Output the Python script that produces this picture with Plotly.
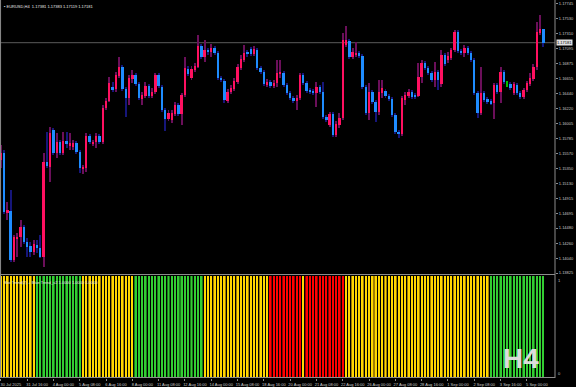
import plotly.graph_objects as go

# ---------------- data ----------------
opens = [1.15472,1.15574,1.14714,1.14728,1.14015,1.14335,1.14350,1.14496,1.14277,1.14219,
         1.14132,1.14233,1.14189,1.14059,1.15443,1.15370,1.15909,1.15574,1.15734,1.15574,
         1.15748,1.15690,1.15661,1.15719,1.15589,1.15355,1.15355,1.15822,1.15705,1.15734,
         1.15822,1.15734,1.16229,1.16331,1.16535,1.16506,1.16696,1.16827,1.16506,1.16375,
         1.16652,1.16710,1.16579,1.16361,1.16405,1.16550,1.16405,1.16463,1.16710,1.16535,
         1.16200,1.16069,1.16055,1.16142,1.16273,1.16142,1.16419,1.16798,1.16667,1.16783,
         1.16827,1.17133,1.16973,1.17075,1.17046,1.17104,1.17031,1.16667,1.16623,1.16331,
         1.16463,1.16506,1.16608,1.16812,1.16929,1.17031,1.17089,1.17017,1.17075,1.16812,
         1.16754,1.16579,1.16608,1.16550,1.16594,1.16739,1.16739,1.16565,1.16448,1.16375,
         1.16331,1.16375,1.16710,1.16594,1.16492,1.16477,1.16448,1.16535,1.16463,1.16098,
         1.15982,1.16142,1.15836,1.15982,1.16084,1.17148,1.17206,1.16973,1.17002,1.17031,
         1.16987,1.16535,1.16156,1.16463,1.16317,1.16171,1.16448,1.16477,1.16405,1.16361,
         1.16127,1.15880,1.15851,1.16346,1.16405,1.16463,1.16419,1.16405,1.16681,1.16885,
         1.16812,1.16739,1.16637,1.16754,1.16579,1.17002,1.16929,1.16958,1.17075,1.17337,
         1.17060,1.17031,1.17104,1.17031,1.16929,1.16448,1.16156,1.16448,1.16361,1.16331,
         1.16302,1.16565,1.16463,1.16754,1.16579,1.16579,1.16448,1.16565,1.16448,1.16390,
         1.16492,1.16579,1.16652,1.16827,1.17322,1.17381]
highs = [1.15690,1.15618,1.14860,1.15035,1.14379,1.14408,1.14598,1.14525,1.14335,1.14277,
         1.14306,1.14306,1.14379,1.15574,1.15880,1.15953,1.15938,1.15865,1.15763,1.15880,
         1.15880,1.15865,1.15763,1.15748,1.15618,1.15399,1.15865,1.15851,1.15763,1.15865,
         1.15851,1.16273,1.16375,1.16681,1.16608,1.16754,1.16973,1.16856,1.16535,1.16710,
         1.16783,1.16739,1.16608,1.16463,1.16608,1.16579,1.16521,1.16739,1.16739,1.16565,
         1.16229,1.16200,1.16200,1.16317,1.16302,1.16448,1.16973,1.16841,1.16841,1.16885,
         1.17293,1.17162,1.17220,1.17104,1.17162,1.17133,1.17060,1.16696,1.16652,1.16506,
         1.16565,1.16667,1.16871,1.17002,1.17148,1.17075,1.17118,1.17133,1.17104,1.16841,
         1.16783,1.16652,1.16637,1.16637,1.16929,1.16929,1.16769,1.16594,1.16477,1.16405,
         1.16419,1.16739,1.16739,1.16623,1.16521,1.16506,1.16608,1.16565,1.16608,1.16127,
         1.16171,1.16171,1.16040,1.16156,1.17322,1.17424,1.17235,1.17104,1.17191,1.17060,
         1.17017,1.16565,1.16594,1.16492,1.16346,1.16637,1.16637,1.16506,1.16434,1.16390,
         1.16156,1.15909,1.16405,1.16463,1.16506,1.16492,1.16448,1.16885,1.16929,1.16914,
         1.16841,1.16769,1.16900,1.16783,1.17075,1.17031,1.17046,1.17104,1.17366,1.17366,
         1.17089,1.17148,1.17133,1.17060,1.16958,1.16477,1.16827,1.16477,1.16390,1.16361,
         1.16594,1.16594,1.16827,1.16783,1.16623,1.16608,1.16608,1.16594,1.16477,1.16521,
         1.16623,1.16739,1.16871,1.17482,1.17584,1.17383]
lows = [1.15355,1.14685,1.14598,1.13986,1.13986,1.14059,1.14204,1.14248,1.14059,1.14059,
        1.14088,1.14117,1.14044,1.13913,1.15355,1.15151,1.15545,1.15501,1.15545,1.15545,
        1.15646,1.15618,1.15618,1.15560,1.15282,1.15268,1.15297,1.15705,1.15676,1.15646,
        1.15705,1.15705,1.16200,1.16317,1.16463,1.16463,1.16667,1.16477,1.16098,1.16273,
        1.16594,1.16550,1.16346,1.16273,1.16375,1.16375,1.16375,1.16434,1.16521,1.16171,
        1.15894,1.16040,1.16011,1.16113,1.16113,1.15982,1.16390,1.16696,1.16637,1.16754,
        1.16812,1.16944,1.16900,1.17002,1.16973,1.17002,1.16637,1.16608,1.16302,1.16302,
        1.16434,1.16477,1.16579,1.16783,1.16900,1.16973,1.16987,1.16987,1.16783,1.16725,
        1.16550,1.16535,1.16521,1.16521,1.16535,1.16667,1.16535,1.16419,1.16346,1.16302,
        1.16200,1.16346,1.16565,1.16448,1.16434,1.16419,1.16244,1.16434,1.16069,1.16026,
        1.15953,1.15807,1.15807,1.15938,1.16055,1.17118,1.16944,1.16944,1.16973,1.16958,
        1.16506,1.16127,1.16055,1.16288,1.16026,1.16127,1.16375,1.16375,1.16331,1.16098,
        1.15851,1.15792,1.15822,1.16273,1.16375,1.16361,1.16361,1.16390,1.16594,1.16783,
        1.16710,1.16608,1.16535,1.16492,1.16535,1.16841,1.16885,1.16929,1.17046,1.17031,
        1.17002,1.16973,1.17002,1.16900,1.16419,1.16084,1.16127,1.16317,1.16288,1.16273,
        1.16069,1.16434,1.16302,1.16579,1.16535,1.16492,1.16419,1.16419,1.16361,1.16361,
        1.16463,1.16550,1.16623,1.16783,1.17293,1.17119]
closes = [1.15574,1.14714,1.14743,1.14015,1.14350,1.14350,1.14496,1.14277,1.14204,1.14132,
          1.14248,1.14189,1.14059,1.15443,1.15385,1.15865,1.15574,1.15734,1.15574,1.15748,
          1.15719,1.15719,1.15719,1.15589,1.15355,1.15370,1.15822,1.15734,1.15734,1.15822,
          1.15734,1.16229,1.16331,1.16594,1.16506,1.16710,1.16827,1.16506,1.16375,1.16667,
          1.16710,1.16579,1.16375,1.16419,1.16550,1.16405,1.16463,1.16710,1.16550,1.16200,
          1.16069,1.16156,1.16156,1.16273,1.16142,1.16419,1.16812,1.16725,1.16798,1.16841,
          1.17133,1.16973,1.17075,1.17046,1.17104,1.17031,1.16667,1.16637,1.16346,1.16463,
          1.16521,1.16623,1.16827,1.16944,1.17031,1.17017,1.17017,1.17089,1.16812,1.16754,
          1.16579,1.16608,1.16550,1.16594,1.16739,1.16754,1.16565,1.16448,1.16375,1.16331,
          1.16375,1.16710,1.16594,1.16477,1.16463,1.16448,1.16535,1.16463,1.16098,1.16055,
          1.16142,1.15836,1.15996,1.16084,1.17220,1.17220,1.16973,1.17046,1.17031,1.16987,
          1.16535,1.16156,1.16463,1.16317,1.16171,1.16463,1.16521,1.16405,1.16361,1.16127,
          1.15880,1.15851,1.16375,1.16419,1.16463,1.16390,1.16390,1.16681,1.16885,1.16812,
          1.16739,1.16637,1.16754,1.16637,1.17002,1.16871,1.16987,1.17075,1.17337,1.17060,
          1.17031,1.17104,1.17031,1.16929,1.16448,1.16156,1.16448,1.16346,1.16317,1.16302,
          1.16565,1.16463,1.16754,1.16608,1.16579,1.16521,1.16579,1.16448,1.16390,1.16492,
          1.16594,1.16667,1.16827,1.17337,1.17381,1.17181]

# trend state per bar of the lower indicator: Y = yellow, G = green, R = red
trend = ("YYYYYYYYYYY" + "GGGGGGGGGGGGGG" + "YYYYYYYYYYYYYYYY" + "GGGGGGGGGGGGGGGGGGGGG"
         + "YYYYYYYYYYYYYYYYYYYY" + "RRRRRRRRRR" + "Y" + "RRRRRRRRRRRR"
         + "YYYYYYYYYYYYYYYYYYYYYYYYYYYYYYYYYYYYYYYYYYYY" + "GGGGGGGGGGGGGGGGG")

time_tick_idx = [0, 8, 16, 24, 32, 40, 48, 56, 64, 72, 80, 88, 96, 104, 112, 120, 128, 136, 144, 152, 160]
time_labels = ["30 Jul 2025", "31 Jul 16:00", "4 Aug 00:00", "5 Aug 08:00", "6 Aug 16:00", "8 Aug 00:00",
               "11 Aug 08:00", "12 Aug 16:00", "14 Aug 00:00", "15 Aug 08:00", "18 Aug 16:00",
               "20 Aug 00:00", "21 Aug 08:00", "22 Aug 16:00", "26 Aug 00:00", "27 Aug 08:00",
               "28 Aug 16:00", "1 Sep 00:00", "2 Sep 08:00", "3 Sep 16:00", "5 Sep 00:00"]
price_ticks = [1.17745, 1.17530, 1.17310, 1.17095, 1.16875, 1.16655, 1.16440, 1.16220, 1.16005,
               1.15785, 1.15570, 1.15350, 1.15130, 1.14915, 1.14695, 1.14480, 1.14260, 1.14040, 1.13825]
symbol = "EURUSD,H4"
timeframe = "H4"
indicator_name = "Slot Trend(2) + Blue Trend_v2 1.0000 1.0000 1.0000"

# ---------------- styling ----------------
BULL_BODY, BEAR_BODY, DOJI = "#FF1060", "#1E8CFF", "#00C000"
BULL_WICK, BEAR_WICK = "#6B0F5A", "#16167A"
TREND_BRIGHT = {"Y": "#FFD700", "G": "#32CD32", "R": "#FF0000"}
TREND_DARK = {"Y": "#A07E00", "G": "#1A7A1A", "R": "#900000"}
GRID = "#8C8C8C"
TXT = "#C8C8C8"
FONT = "Liberation Sans"

n = len(closes)
idx = list(range(n))
body_col, wick_col, body_base, body_h = [], [], [], []
for o, c in zip(opens, closes):
    if c > o:
        body_col.append(BULL_BODY); wick_col.append(BULL_WICK)
    elif c < o:
        body_col.append(BEAR_BODY); wick_col.append(BEAR_WICK)
    else:
        body_col.append(DOJI); wick_col.append(DOJI)
    body_base.append(min(o, c))
    body_h.append(max(abs(c - o), 0.00008))

fig = go.Figure()
fig.add_trace(go.Bar(x=idx, y=[h - l for h, l in zip(highs, lows)], base=lows, width=0.3,
                     marker=dict(color=wick_col, line=dict(width=0)), xaxis="x", yaxis="y",
                     hoverinfo="skip", showlegend=False))
fig.add_trace(go.Bar(x=idx, y=body_h, base=body_base, width=0.72,
                     marker=dict(color=body_col, line=dict(width=0)), xaxis="x", yaxis="y",
                     showlegend=False))
fig.add_trace(go.Bar(x=idx, y=[1] * n, width=0.7,
                     marker=dict(color=[TREND_DARK[t] for t in trend], line=dict(width=0)),
                     xaxis="x2", yaxis="y2", showlegend=False))
fig.add_trace(go.Bar(x=idx, y=[1] * n, width=0.3,
                     marker=dict(color=[TREND_BRIGHT[t] for t in trend], line=dict(width=0)),
                     xaxis="x2", yaxis="y2", showlegend=False))

W, H = 576, 387
ML, MR, MT, MB = 0, 21, 0, 9
PH = H - MT - MB
main_bottom_px, ind_top_px = 274, 276
xr = [-0.243, 168.55]

fig.update_layout(
    width=W, height=H, margin=dict(l=ML, r=MR, t=MT, b=MB, autoexpand=False),
    paper_bgcolor="#000000", plot_bgcolor="#000000",
    barmode="overlay", bargap=0,
    font=dict(family=FONT, size=4, color=TXT),
    xaxis=dict(domain=[0, 1], range=xr, showgrid=False, zeroline=False, showticklabels=False,
               ticks="", anchor="y", automargin=False),
    yaxis=dict(domain=[1 - main_bottom_px / PH, 1], range=[1.13811, 1.17803], side="right",
               showgrid=False, zeroline=False, tickvals=price_ticks,
               ticktext=[f"{v:.5f}" for v in price_ticks], ticks="outside", ticklen=2,
               tickcolor=GRID, tickfont=dict(size=4, color=TXT), anchor="x", automargin=False),
    xaxis2=dict(domain=[0, 1], range=xr, showgrid=False, zeroline=False, anchor="y2",
                tickvals=time_tick_idx, ticktext=time_labels, ticks="outside", ticklen=2,
                tickcolor=GRID, tickfont=dict(size=4, color=TXT), ticklabelshift=10,
                ticklabelstandoff=0, tickangle=0, automargin=False),
    yaxis2=dict(domain=[0, 1 - ind_top_px / PH], range=[0, 1], showgrid=False, zeroline=False,
                showticklabels=False, ticks="", anchor="x2", side="right", automargin=False),
)

def hline(ypx, x0=0, x1=1, color=GRID):
    fig.add_shape(type="line", xref="paper", yref="paper", x0=x0, x1=x1,
                  y0=1 - ypx / PH, y1=1 - ypx / PH, line=dict(color=color, width=1))

# panel borders
hline(main_bottom_px + 0.5)
hline(PH - 0.5)
fig.add_shape(type="line", xref="paper", yref="paper", x0=1, x1=1, y0=0, y1=1,
              line=dict(color=GRID, width=1))
fig.add_shape(type="line", xref="paper", yref="paper", x0=0.001, x1=0.001, y0=0, y1=1,
              line=dict(color=GRID, width=1))
# current price line
fig.add_shape(type="line", xref="paper", yref="y", x0=0, x1=1, y0=closes[-1], y1=closes[-1],
              line=dict(color="#5A5A5A", width=1), layer="below")

# current price tag
fig.add_annotation(xref="paper", yref="y", x=1, y=closes[-1], xanchor="left", yanchor="middle",
                   text=f"{closes[-1]:.5f}", showarrow=False, bgcolor="#E0E0E0",
                   font=dict(size=4, color="#000000"), borderpad=0, xshift=1)
# title
fig.add_annotation(xref="paper", yref="paper", x=0, y=1, xanchor="left", yanchor="top",
                   text=f"▪ {symbol}  {opens[-1]:.5f} {highs[-1]:.5f} {lows[-1]:.5f} {closes[-1]:.5f}",
                   showarrow=False, font=dict(size=4, color="#E8E8E8"), xshift=2, yshift=-2)
# indicator label
fig.add_annotation(xref="paper", yref="paper", x=0, y=1 - ind_top_px / PH, xanchor="left",
                   yanchor="top", text=indicator_name, showarrow=False,
                   font=dict(size=4, color="#E0E0E0"), xshift=2, yshift=-2)
# indicator scale labels
fig.add_annotation(xref="paper", yref="y2", x=1, y=1, xanchor="left", yanchor="top", text="1",
                   showarrow=False, font=dict(size=4, color=TXT), xshift=1)
fig.add_annotation(xref="paper", yref="y2", x=1, y=0, xanchor="left", yanchor="bottom", text="0",
                   showarrow=False, font=dict(size=4, color=TXT), xshift=1)
# timeframe watermark
fig.add_annotation(xref="paper", yref="paper", x=521 / 555, y=1 - 358 / PH, xanchor="center",
                   yanchor="middle", text=f"<b>{timeframe}</b>", showarrow=False,
                   font=dict(size=28, color="#DCDCDC", family=FONT))

fig.write_html("out.html")
